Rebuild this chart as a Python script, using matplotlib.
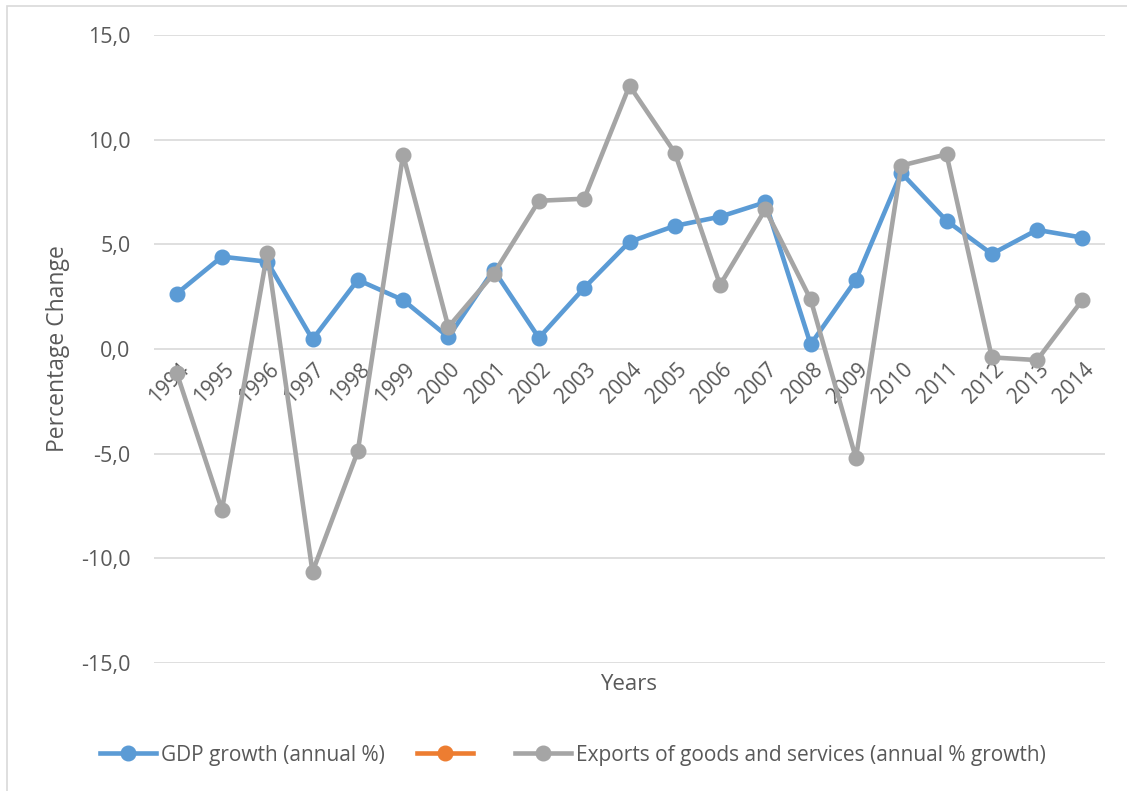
import matplotlib
matplotlib.use("Agg")
import matplotlib.pyplot as plt
from matplotlib.patches import Rectangle

# annual growth series, 1994-2014
years = [str(y) for y in range(1994, 2015)]
gdp_growth = [2.64, 4.41, 4.17, 0.46, 3.30, 2.34, 0.57, 3.78, 0.53, 2.92, 5.12,
              5.88, 6.32, 7.01, 0.22, 3.30, 8.42, 6.13, 4.54, 5.69, 5.32]
export_growth = [-1.13, -7.69, 4.57, -10.65, -4.89, 9.28, 1.05, 3.59, 7.08, 7.18, 12.58,
                 9.38, 3.06, 6.67, 2.37, -5.22, 8.76, 9.30, -0.40, -0.53, 2.34]
y_ticks = [-15, -10, -5, 0, 5, 10, 15]

plt.rcParams['font.family'] = ['Open Sans', 'DejaVu Sans']
txt = "#595959"

fig = plt.figure(figsize=(11.27, 7.91), dpi=100)
ax = fig.add_axes([154 / 1127, 1 - 663 / 791, (1105 - 154) / 1127, (663 - 35) / 791])

# outer chart border
fig.patches.append(Rectangle((7 / 1127, -0.1), 1.2, 1 - 6 / 791 + 0.1, transform=fig.transFigure,
                             fill=False, edgecolor="#D9D9D9", linewidth=1.2, zorder=0))

x = list(range(len(years)))
ax.plot(x, gdp_growth, color="#5B9BD5", lw=3.3, marker="o", ms=10.5,
        label="GDP growth (annual %)", zorder=3)
ax.plot([], [], color="#ED7D31", lw=3.3, marker="o", ms=10.5, label=" ")
ax.plot(x, export_growth, color="#A5A5A5", lw=3.3, marker="o", ms=10.5,
        label="Exports of goods and services (annual % growth)", zorder=4)

ax.set_xlim(-0.5, len(years) - 0.5)
ax.set_ylim(-15, 15)
ax.set_yticks(y_ticks)
ax.set_yticklabels([f"{v:.1f}".replace(".", ",") for v in y_ticks], color=txt, fontsize=15.5)
ax.tick_params(axis="y", length=0, pad=17)
ax.set_xticks([])
ax.grid(axis="y", color="#D9D9D9", lw=1.2)
ax.set_axisbelow(True)
for s in ax.spines.values():
    s.set_visible(False)

# category labels sit at the zero line
for i, lab in enumerate(years):
    ax.annotate(lab, xy=(i, 0), xytext=(1, -7), textcoords="offset points",
                rotation=45, ha="right", va="top", rotation_mode="anchor",
                color=txt, fontsize=15)

ax.set_ylabel("Percentage Change", color=txt, fontsize=16.5, labelpad=8)
fig.text(629 / 1127, 1 - 684 / 791, "Years", color=txt, fontsize=16, ha="center", va="center")

fig.legend(loc="center", bbox_to_anchor=(573 / 1127, 1 - 755 / 791), ncol=3, frameon=False,
           fontsize=15, labelcolor=txt, handlelength=2.7, handletextpad=0.25,
           columnspacing=1.5)

fig.savefig("out.png", dpi=100)
